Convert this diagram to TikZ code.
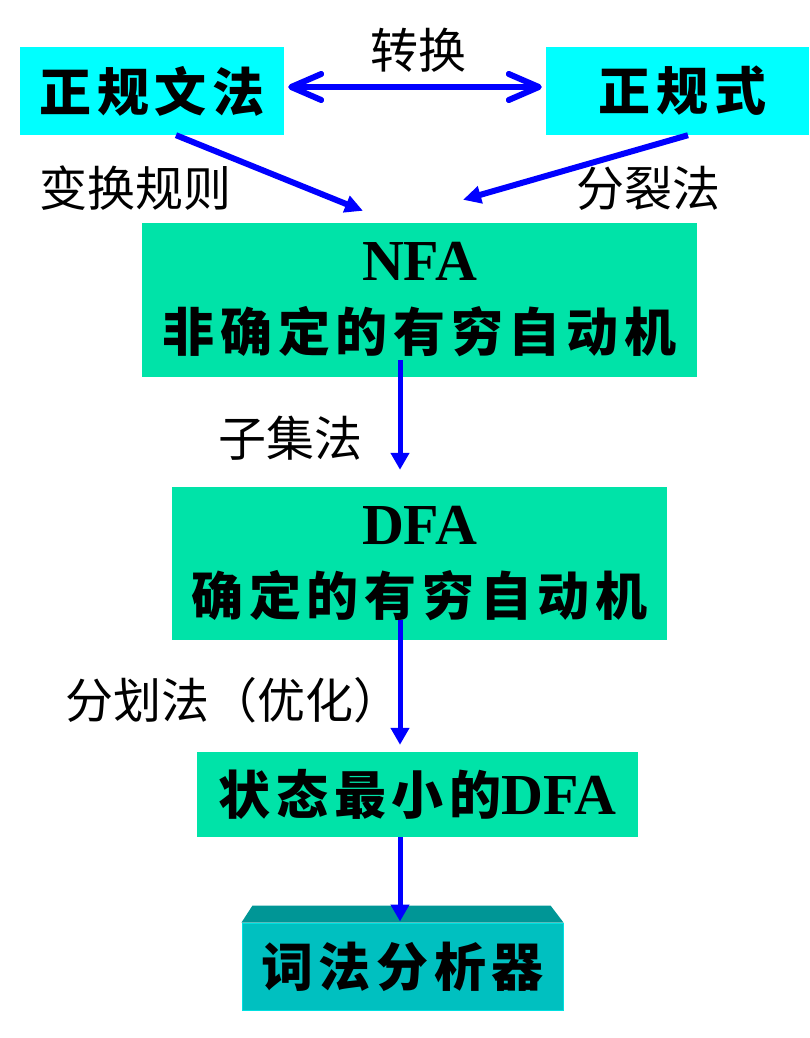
\documentclass[tikz,border=0pt]{standalone}
\usepackage{fontspec}
\usetikzlibrary{arrows.meta}
\newfontfamily\cjk{Noto Sans CJK SC}
\newfontfamily\cjkbox{Noto Sans CJK SC}[LetterSpace=11]
\newfontfamily\tnr{Liberation Serif}
\definecolor{cyanbox}{RGB}{0,255,255}
\definecolor{greenbox}{RGB}{0,227,168}
\definecolor{tealbox}{RGB}{0,192,192}
\definecolor{tealtop}{RGB}{0,150,150}
\definecolor{tealedge}{RGB}{0,224,224}
\definecolor{arrowblue}{RGB}{0,0,255}
\tikzset{
  box/.style={inner sep=0pt, anchor=center, align=center, text=black, font=\fontsize{52}{71}\selectfont},
  lbl/.style={inner sep=0pt, anchor=center, text=black, font=\cjk\fontsize{48}{56}\selectfont},
  boxcjk/.style={font=\cjkbox\bfseries\fontsize{52}{71}\selectfont},
  darrow/.style={draw=arrowblue, line width=6pt, {Straight Barb[length=30pt,width=26pt,line width=6pt,round]}-{Straight Barb[length=30pt,width=26pt,line width=6pt,round]}},
  sarrow/.style={draw=arrowblue, line width=6pt, -{Triangle[length=18pt,width=17pt]}},
  varrow/.style={draw=arrowblue, line width=5pt, -{Triangle[length=17pt,width=18pt]}}
}
\newcommand{\latb}{\tnr\bfseries\fontsize{58}{71}\selectfont}
\newcommand{\cjkb}{\cjkbox\bfseries\fontsize{52}{71}\selectfont}
\begin{document}
\begin{tikzpicture}[x=1pt,y=-1pt]
\useasboundingbox (0,0) rectangle (809,1038);
% boxes
\node[box, boxcjk, fill=cyanbox, minimum width=264pt, minimum height=88pt] (g) at (152,91) {正规文法};
\node[box, boxcjk, fill=cyanbox, minimum width=263pt, minimum height=88pt] (r) at (677.5,91) {\hspace*{10pt}正规式};
\node[box, fill=greenbox, minimum width=555pt, minimum height=154pt] (nfa) at (419.5,300)
  {{\latb NFA}\\{\cjkb 非确定的有穷自动机}};
\node[box, fill=greenbox, minimum width=495pt, minimum height=153pt] (dfa) at (419.5,563.5)
  {{\latb DFA}\\{\cjkb 确定的有穷自动机}};
\node[box, fill=greenbox, minimum width=441pt, minimum height=85pt] (min) at (417.5,794.5)
  {{\cjkb 状态最小的}{\latb DFA}};
\node[box, boxcjk, fill=tealbox, draw=tealedge, line width=1pt, minimum width=321pt, minimum height=87pt] (lex) at (402.5,966.5) {词法分析器};
\fill[tealtop] (lex.north west) -- ([xshift=11pt,yshift=17pt]lex.north west) -- ([xshift=-13pt,yshift=17pt]lex.north east) -- (lex.north east) -- cycle;
% labels
\node[lbl] (l1) at (418,50) {转换};
\node[lbl] (l2) at (135,188) {变换规则};
\node[lbl] (l3) at (648,188) {分裂法};
\node[lbl] (l4) at (290,438) {子集法};
\node[lbl] (l5) at (233,700) {分划法（优化）};
% arrows
\draw[darrow] ([xshift=4pt,yshift=4pt]g.east) -- ([xshift=-4pt,yshift=4pt]r.west);
\draw[sarrow] ([xshift=24pt]g.south) -- ([xshift=-56.5pt,yshift=12pt]nfa.north);
\draw[sarrow] ([xshift=10.5pt]r.south) -- ([xshift=43.5pt,yshift=23pt]nfa.north);
\draw[varrow] ([xshift=-19.5pt,yshift=17pt]nfa.south) -- ([xshift=-19.5pt,yshift=17pt]dfa.north);
\draw[varrow] ([xshift=-19.5pt,yshift=20pt]dfa.south) -- ([xshift=-17.5pt,yshift=7pt]min.north);
\draw[varrow] ([xshift=-17.5pt]min.south) -- ([xshift=-2.5pt,yshift=1pt]lex.north);
\end{tikzpicture}
\end{document}
